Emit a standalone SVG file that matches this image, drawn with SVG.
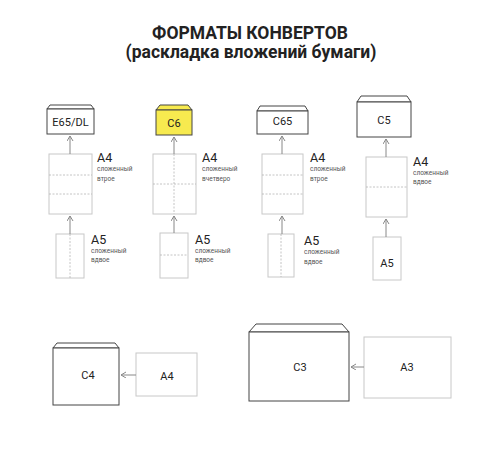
<svg xmlns="http://www.w3.org/2000/svg" width="500" height="450" viewBox="0 0 500 450">
<defs>
<style>
.t{font-family:Roboto,"Liberation Sans",sans-serif;fill:#222}
.title{font-size:17.5px;font-weight:bold;text-anchor:middle}
.env{fill:#fff;stroke:#444;stroke-width:1}
.yel{fill:#f7ea4f}
.paper{fill:#fff;stroke:#c8c8c8;stroke-width:1}
.fold{stroke:#b5b5b5;stroke-width:0.8;stroke-dasharray:2 1.5;fill:none}
.lbl{font-size:11px;text-anchor:middle}
.big{font-size:12.5px}
.small{font-size:6.5px;fill:#555}
.arr{stroke:#888;stroke-width:1;fill:none;marker-end:url(#ah)}
</style>
<marker id="ah" markerWidth="8" markerHeight="8" refX="5" refY="3" orient="auto" markerUnits="userSpaceOnUse">
<path d="M0,0 L5,3 L0,6" fill="none" stroke="#888" stroke-width="1"/>
</marker>
</defs>
<rect width="500" height="450" fill="#fff"/>
<g id="title">
<text class="t title" x="250" y="39">ФОРМАТЫ КОНВЕРТОВ</text>
<text class="t title" x="251" y="58">(раскладка вложений бумаги)</text>
</g>

<g id="env-e65">
<polygon class="env" points="47,109 50,105 91,105 94,109"/>
<rect class="env" x="47" y="109" width="47" height="25"/>
<text class="t lbl" x="70.5" y="126">E65/DL</text>
</g>
<g id="a4-col1">
<rect class="paper" x="49" y="154" width="43" height="60"/>
<line class="fold" x1="49" y1="175" x2="92" y2="175"/>
<line class="fold" x1="49" y1="194" x2="92" y2="194"/>
<text class="t big" x="97" y="162">A4</text>
<text class="t small" x="97" y="171">сложенный</text>
<text class="t small" x="97" y="181">втрое</text>
</g>
<g id="a5-col1">
<rect class="paper" x="56" y="234" width="28" height="44"/>
<line class="fold" x1="70" y1="234" x2="70" y2="278"/>
<text class="t big" x="91" y="244">A5</text>
<text class="t small" x="91" y="253">сложенный</text>
<text class="t small" x="91" y="262">вдвое</text>
</g>

<g id="env-c6">
<polygon class="env yel" points="156,110 160,105 188,105 192,110"/>
<rect class="env yel" x="156" y="110" width="36" height="25"/>
<text class="t lbl" x="174" y="127">C6</text>
</g>
<g id="a4-col2">
<rect class="paper" x="153" y="154" width="43" height="60"/>
<line class="fold" x1="153" y1="184" x2="196" y2="184"/>
<line class="fold" x1="174" y1="154" x2="174" y2="214"/>
<text class="t big" x="202" y="162">A4</text>
<text class="t small" x="202" y="171">сложенный</text>
<text class="t small" x="202" y="181">вчетверо</text>
</g>
<g id="a5-col2">
<rect class="paper" x="160" y="233" width="28" height="45"/>
<line class="fold" x1="160" y1="255" x2="188" y2="255"/>
<text class="t big" x="195" y="244">A5</text>
<text class="t small" x="195" y="253">сложенный</text>
<text class="t small" x="195" y="262">вдвое</text>
</g>

<g id="env-c65">
<polygon class="env" points="257,111 260,106 305,106 308,111"/>
<rect class="env" x="257" y="111" width="51" height="23"/>
<text class="t lbl" x="282.5" y="125">C65</text>
</g>
<g id="a4-col3">
<rect class="paper" x="262" y="154" width="41" height="60"/>
<line class="fold" x1="262" y1="175" x2="303" y2="175"/>
<line class="fold" x1="262" y1="194" x2="303" y2="194"/>
<text class="t big" x="310" y="162">A4</text>
<text class="t small" x="310" y="171">сложенный</text>
<text class="t small" x="310" y="181">втрое</text>
</g>
<g id="a5-col3">
<rect class="paper" x="268" y="234" width="26" height="43"/>
<line class="fold" x1="281" y1="234" x2="281" y2="277"/>
<text class="t big" x="304" y="245">A5</text>
<text class="t small" x="304" y="254">сложенный</text>
<text class="t small" x="304" y="264">вдвое</text>
</g>

<g id="env-c5">
<polygon class="env" points="357,102 361,96 407,96 411,102"/>
<rect class="env" x="357" y="102" width="54" height="35"/>
<text class="t lbl" x="384" y="124">C5</text>
</g>
<g id="a4-col4">
<rect class="paper" x="366" y="157" width="41" height="60"/>
<line class="fold" x1="366" y1="187" x2="407" y2="187"/>
<text class="t big" x="413" y="166">A4</text>
<text class="t small" x="413" y="175">сложенный</text>
<text class="t small" x="413" y="184">вдвое</text>
</g>
<g id="a5-col4">
<rect class="paper" x="373" y="237" width="28" height="43"/>
<text class="t lbl" x="387" y="267">A5</text>
</g>

<g id="env-c4">
<polygon class="env" points="53,348 57,343 115,343 119,348"/>
<rect class="env" x="53" y="348" width="66" height="57"/>
<text class="t lbl" x="88" y="379">C4</text>
</g>
<g id="a4-bottom">
<rect class="paper" x="136" y="353" width="61" height="43"/>
<text class="t lbl" x="167" y="380">A4</text>
</g>

<g id="env-c3">
<polygon class="env" points="249,332 256,324 342,324 349,332"/>
<rect class="env" x="249" y="332" width="100" height="69"/>
<text class="t lbl" x="300" y="371">C3</text>
</g>
<g id="a3">
<rect class="paper" x="364" y="337" width="87" height="61"/>
<text class="t lbl" x="407" y="371">A3</text>
</g>

<g id="connectors">
<line class="arr" x1="70" y1="154" x2="70" y2="136"/>
<line class="arr" x1="70" y1="234" x2="70" y2="216"/>
<line class="arr" x1="174" y1="154" x2="174" y2="137"/>
<line class="arr" x1="174" y1="233" x2="174" y2="216"/>
<line class="arr" x1="282" y1="154" x2="282" y2="136"/>
<line class="arr" x1="282" y1="234" x2="282" y2="216"/>
<line class="arr" x1="386" y1="157" x2="386" y2="139"/>
<line class="arr" x1="386" y1="237" x2="386" y2="219"/>
<line class="arr" x1="136" y1="375" x2="121" y2="375"/>
<line class="arr" x1="364" y1="367" x2="351" y2="367"/>
</g>
</svg>
